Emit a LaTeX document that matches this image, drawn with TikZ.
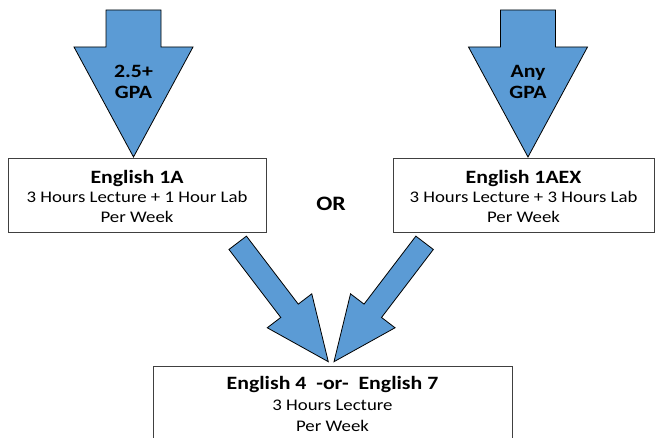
\documentclass[tikz,border=0pt]{standalone}
\usepackage{fontspec}
\setmainfont{Carlito}[FakeStretch=1.16]
\usepackage{tikz}
\usetikzlibrary{calc}

\definecolor{arrowblue}{HTML}{5B9BD5}
\definecolor{boxline}{HTML}{404040}

% block arrow: tail, tip, shaft half width, head half width, head length
\newcommand{\blockarrow}[5]{%
	\coordinate (hb) at ($(#2)!#5!(#1)$);
	\filldraw[bigarrow] ($(#1)!#3!90:(#2)$) -- ($(hb)!#3!90:(#2)$) -- ($(hb)!#4!90:(#2)$) -- (#2)
	-- ($(hb)!#4!-90:(#2)$) -- ($(hb)!#3!-90:(#2)$) -- ($(#1)!#3!-90:(#2)$) -- cycle;
}
\newcommand{\boldline}[1]{{\bfseries\fontsize{18.8}{19.5}\selectfont #1}}

\begin{document}
\begin{tikzpicture}[
			x=1pt, y=-1pt,
			bigarrow/.style={fill=arrowblue, draw=black, line width=0.8pt, line join=miter},
			course/.style={draw=boxline, line width=1pt, fill=white, align=center, inner sep=0pt,
				font=\fontsize{16.2}{19.5}\selectfont},
			arrowtext/.style={align=center, font=\bfseries\fontsize{18.8}{21}\selectfont}
			]
			\useasboundingbox (0,0) rectangle (656,438);
			
			%==================== 入口箭头 ====================
			\coordinate (gpatail) at (133.5,10);
			\coordinate (gpatip) at (133.5,157);
			\coordinate (anytail) at (528,10);
			\coordinate (anytip) at (528,157);
			
			\blockarrow{gpatail}{gpatip}{27.5pt}{59.5pt}{110pt}
			\blockarrow{anytail}{anytip}{27.5pt}{59.5pt}{110pt}
			
			\node[arrowtext] (gpatext) at (133.5,82) {2.5+\\GPA};
			\node[arrowtext] (anytext) at (528,82) {Any\\GPA};
			
			%==================== 课程 ====================
			\node[course, minimum width=258, minimum height=74] (onea) at (137,196)
			{\boldline{English 1A}\\3 Hours Lecture + 1 Hour Lab\\Per Week};
			\node[course, minimum width=261, minimum height=74] (oneaex) at (523.5,196)
			{\boldline{English 1AEX}\\3 Hours Lecture + 3 Hours Lab\\Per Week};
			\node[font=\bfseries\fontsize{20.5}{22}\selectfont] (orlabel) at (331,204) {OR};
			
			\node[course, font=\fontsize{16.2}{21}\selectfont, minimum width=359, inner ysep=10, anchor=north] (engfour) at (332.5,366)
			{\boldline{English 4\ \ -or-\ \ English 7}\\3 Hours Lecture\\Per Week};
			
			%==================== 汇合箭头 ====================
			\coordinate (leftdiag) at (237.7,242.8);
			\coordinate (lefttip) at (328.3,361.7);
			\coordinate (rightdiag) at (424.6,242.8);
			\coordinate (righttip) at (334,361.7);
			
			\blockarrow{leftdiag}{lefttip}{11pt}{28pt}{64pt}
			\blockarrow{rightdiag}{righttip}{11pt}{28pt}{64pt}
			
		\end{tikzpicture}
\end{document}
